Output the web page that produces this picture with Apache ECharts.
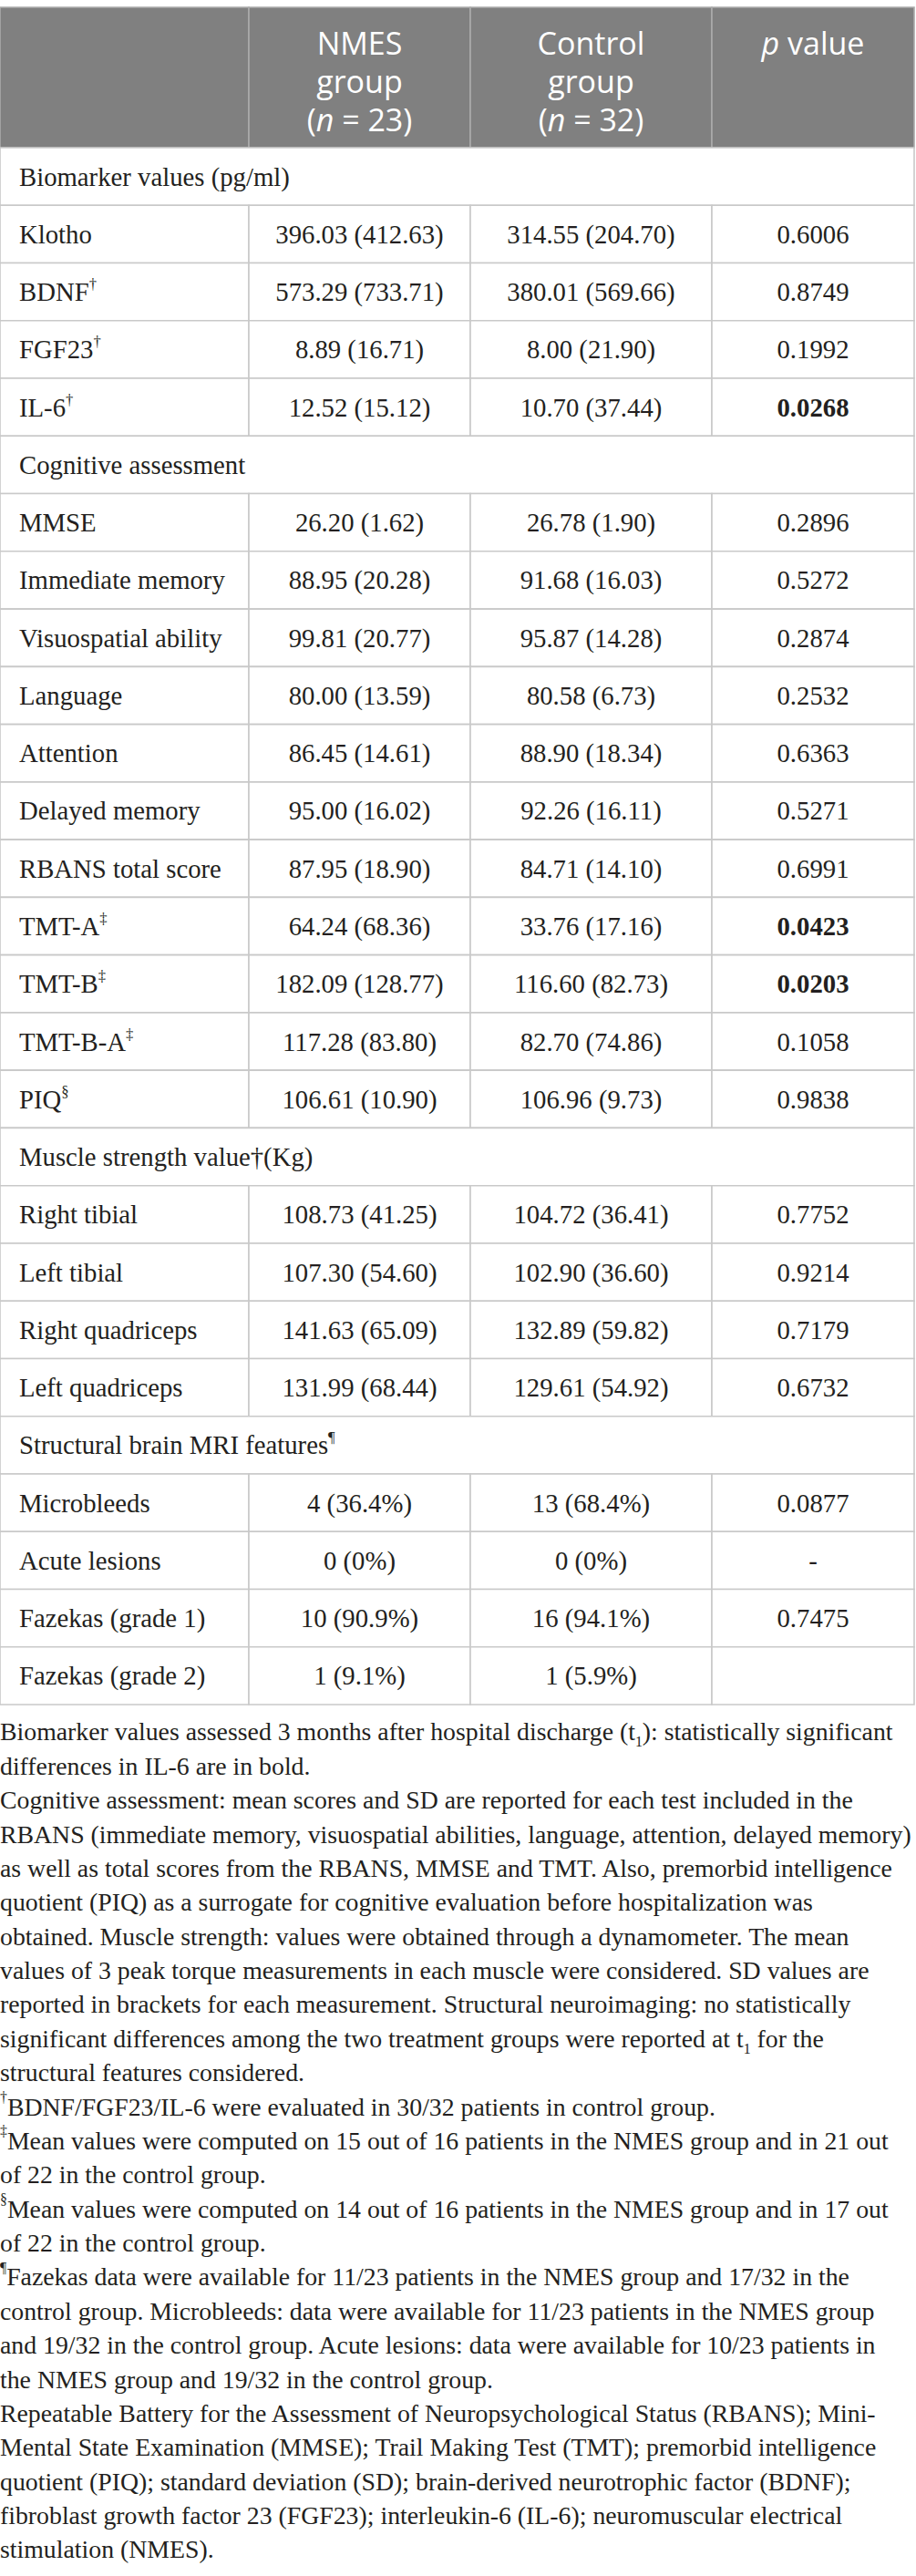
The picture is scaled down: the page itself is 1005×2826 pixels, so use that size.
<!DOCTYPE html>
<html>
<head>
<meta charset="utf-8">
<script src="https://cdn.jsdelivr.net/npm/echarts@6/dist/echarts.min.js"></script>
<style>
html,body{margin:0;padding:0;background:#ffffff;}
#chart{width:1005px;height:2826px;}
</style>
</head>
<body>
<div id="chart"></div>
<script>
// ---------------- DATA ----------------
const groupNames = ['NMES', 'Control'];
const groupSizes = [23, 32];
const pHeaderLabel = 'value';

const sectionTitles = ['Biomarker values (pg/ml)', 'Cognitive assessment', 'Muscle strength value\u2020(Kg)', 'Structural brain MRI features'];
const sectionMarks = ['', '', '', '\u00b6'];

const biomarkerLabels = ['Klotho', 'BDNF', 'FGF23', 'IL-6'];
const biomarkerMarks = ['', '\u2020', '\u2020', '\u2020'];
const biomarkerNmesMean = [396.03, 573.29, 8.89, 12.52];
const biomarkerNmesSD = [412.63, 733.71, 16.71, 15.12];
const biomarkerCtrlMean = [314.55, 380.01, 8.00, 10.70];
const biomarkerCtrlSD = [204.70, 569.66, 21.90, 37.44];
const biomarkerP = [0.6006, 0.8749, 0.1992, 0.0268];

const cognitiveLabels = ['MMSE', 'Immediate memory', 'Visuospatial ability', 'Language', 'Attention', 'Delayed memory', 'RBANS total score', 'TMT-A', 'TMT-B', 'TMT-B-A', 'PIQ'];
const cognitiveMarks = ['', '', '', '', '', '', '', '\u2021', '\u2021', '\u2021', '\u00a7'];
const cognitiveNmesMean = [26.20, 88.95, 99.81, 80.00, 86.45, 95.00, 87.95, 64.24, 182.09, 117.28, 106.61];
const cognitiveNmesSD = [1.62, 20.28, 20.77, 13.59, 14.61, 16.02, 18.90, 68.36, 128.77, 83.80, 10.90];
const cognitiveCtrlMean = [26.78, 91.68, 95.87, 80.58, 88.90, 92.26, 84.71, 33.76, 116.60, 82.70, 106.96];
const cognitiveCtrlSD = [1.90, 16.03, 14.28, 6.73, 18.34, 16.11, 14.10, 17.16, 82.73, 74.86, 9.73];
const cognitiveP = [0.2896, 0.5272, 0.2874, 0.2532, 0.6363, 0.5271, 0.6991, 0.0423, 0.0203, 0.1058, 0.9838];

const muscleLabels = ['Right tibial', 'Left tibial', 'Right quadriceps', 'Left quadriceps'];
const muscleNmesMean = [108.73, 107.30, 141.63, 131.99];
const muscleNmesSD = [41.25, 54.60, 65.09, 68.44];
const muscleCtrlMean = [104.72, 102.90, 132.89, 129.61];
const muscleCtrlSD = [36.41, 36.60, 59.82, 54.92];
const muscleP = [0.7752, 0.9214, 0.7179, 0.6732];

const structuralLabels = ['Microbleeds', 'Acute lesions', 'Fazekas (grade 1)', 'Fazekas (grade 2)'];
const structuralNmesCount = [4, 0, 10, 1];
const structuralNmesPct = [36.4, 0, 90.9, 9.1];
const structuralCtrlCount = [13, 0, 16, 1];
const structuralCtrlPct = [68.4, 0, 94.1, 5.9];
const structuralP = [0.0877, '-', 0.7475, ''];

const footnoteLines = [
  'Biomarker values assessed 3 months after hospital discharge (t{sub|1}): statistically significant',
  'differences in IL-6 are in bold.',
  'Cognitive assessment: mean scores and SD are reported for each test included in the',
  'RBANS (immediate memory, visuospatial abilities, language, attention, delayed memory)',
  'as well as total scores from the RBANS, MMSE and TMT. Also, premorbid intelligence',
  'quotient (PIQ) as a surrogate for cognitive evaluation before hospitalization was',
  'obtained. Muscle strength: values were obtained through a dynamometer. The mean',
  'values of 3 peak torque measurements in each muscle were considered. SD values are',
  'reported in brackets for each measurement. Structural neuroimaging: no statistically',
  'significant differences among the two treatment groups were reported at t{sub|1} for the',
  'structural features considered.',
  '{sup|\u2020}BDNF/FGF23/IL-6 were evaluated in 30/32 patients in control group.',
  '{sup|\u2021}Mean values were computed on 15 out of 16 patients in the NMES group and in 21 out',
  'of 22 in the control group.',
  '{sup|\u00a7}Mean values were computed on 14 out of 16 patients in the NMES group and in 17 out',
  'of 22 in the control group.',
  '{sup|\u00b6}Fazekas data were available for 11/23 patients in the NMES group and 17/32 in the',
  'control group. Microbleeds: data were available for 11/23 patients in the NMES group',
  'and 19/32 in the control group. Acute lesions: data were available for 10/23 patients in',
  'the NMES group and 19/32 in the control group.',
  'Repeatable Battery for the Assessment of Neuropsychological Status (RBANS); Mini-',
  'Mental State Examination (MMSE); Trail Making Test (TMT); premorbid intelligence',
  'quotient (PIQ); standard deviation (SD); brain-derived neurotrophic factor (BDNF);',
  'fibroblast growth factor 23 (FGF23); interleukin-6 (IL-6); neuromuscular electrical',
  'stimulation (NMES).'
];

// ---------------- LAYOUT / STYLE ----------------
const COL_EDGES = [0, 273, 516, 781, 1003];
const TABLE_TOP = 8;
const HEADER_H = 154;
const ROW_H = 63.26;
const TEXT_COLOR = '#231f20';
const BORDER = '#c9c9c9';
const HEAD_FILL = '#808080';
const SANS = 'Open Sans';

// pick an installed serif face
const measureCtx = document.createElement('canvas').getContext('2d');
function textW(font, s) { measureCtx.font = font; return measureCtx.measureText(s).width; }
function hasFont(name) {
  const probe = 'mmmmmmmmmmlliWWWabcxyz0123456789';
  const fallbacks = ['monospace', 'sans-serif'];
  return fallbacks.every(fb => textW('40px ' + fb, probe) !== textW('40px "' + name + '", ' + fb, probe));
}
const serifCandidates = ['Liberation Serif', 'Tinos', 'Times New Roman', 'Noto Serif', 'DejaVu Serif', 'FreeSerif'];
let SERIF = 'serif';
for (const f of serifCandidates) { if (hasFont(f)) { SERIF = f; break; } }
const serifCss = SERIF === 'serif' ? 'serif' : '"' + SERIF + '", serif';
// size text so that widths match the reference
const BODY_SIZE = Math.min(30, 29 * 297 / textW('29px ' + serifCss, 'Biomarker values (pg/ml)'));
const NOTE_SIZE = Math.min(30, 28 * 1000 / textW('28px ' + serifCss, 'RBANS (immediate memory, visuospatial abilities, language, attention, delayed memory)'));
const FAMILY = SERIF === 'serif' ? 'serif' : SERIF;

// ---------------- BUILD ROWS ----------------
const fmtMS = (m, s) => m.toFixed(2) + ' (' + s.toFixed(2) + ')';
const fmtCP = (c, p) => c + ' (' + (p === 0 ? '0' : p.toFixed(1)) + '%)';
const fmtP = p => (typeof p === 'number' ? p.toFixed(4) : p);

const rows = [];
function addSection(k) { rows.push({ section: true, label: sectionTitles[k], mark: sectionMarks[k] }); }
function addMS(labels, marks, nm, ns, cm, cs, ps) {
  labels.forEach((l, i) => rows.push({
    label: l, mark: marks ? marks[i] : '',
    c1: fmtMS(nm[i], ns[i]), c2: fmtMS(cm[i], cs[i]),
    p: fmtP(ps[i]), bold: typeof ps[i] === 'number' && ps[i] < 0.05
  }));
}
addSection(0);
addMS(biomarkerLabels, biomarkerMarks, biomarkerNmesMean, biomarkerNmesSD, biomarkerCtrlMean, biomarkerCtrlSD, biomarkerP);
addSection(1);
addMS(cognitiveLabels, cognitiveMarks, cognitiveNmesMean, cognitiveNmesSD, cognitiveCtrlMean, cognitiveCtrlSD, cognitiveP);
addSection(2);
addMS(muscleLabels, null, muscleNmesMean, muscleNmesSD, muscleCtrlMean, muscleCtrlSD, muscleP);
addSection(3);
structuralLabels.forEach((l, i) => rows.push({
  label: l, mark: '',
  c1: fmtCP(structuralNmesCount[i], structuralNmesPct[i]),
  c2: fmtCP(structuralCtrlCount[i], structuralCtrlPct[i]),
  p: fmtP(structuralP[i]), bold: typeof structuralP[i] === 'number' && structuralP[i] < 0.05
}));

const rowCats = rows.map((r, i) => String(i));

// ---------------- RENDER ----------------
function txt(x, y, text, opts) {
  const st = Object.assign({
    text: text,
    fill: TEXT_COLOR, fontSize: BODY_SIZE, fontFamily: FAMILY, fontWeight: 'normal',
    align: 'left', verticalAlign: 'middle'
  }, opts || {});
  return { type: 'text', x: x, y: y, style: st, silent: true };
}

const serifRich = {
  sup: { fontSize: BODY_SIZE * 0.58, fontFamily: FAMILY, fill: TEXT_COLOR, lineHeight: 18, verticalAlign: 'top' }
};

function renderBody(params, api) {
  const i = api.value(1);
  const row = rows[i];
  const c = api.coord([0, i]);
  const h = api.size([0, 1])[1];
  const top = c[1] - h / 2;
  const xs = COL_EDGES.map(e => api.coord([e, i])[0]);
  const children = [];
  const labelText = row.label + (row.mark ? '{sup|' + row.mark + '}' : '');
  if (row.section) {
    children.push({ type: 'rect', shape: { x: xs[0], y: top, width: xs[4] - xs[0], height: h },
      style: { fill: '#ffffff', stroke: BORDER, lineWidth: 1.6 } });
    children.push(txt(xs[0] + 21, c[1], labelText, { rich: serifRich, lineHeight: 34 }));
  } else {
    for (let k = 0; k < 4; k++) {
      children.push({ type: 'rect', shape: { x: xs[k], y: top, width: xs[k + 1] - xs[k], height: h },
        style: { fill: '#ffffff', stroke: BORDER, lineWidth: 1.6 } });
    }
    children.push(txt(xs[0] + 21, c[1], labelText, { rich: serifRich, lineHeight: 34 }));
    children.push(txt((xs[1] + xs[2]) / 2, c[1], row.c1, { align: 'center' }));
    children.push(txt((xs[2] + xs[3]) / 2, c[1], row.c2, { align: 'center' }));
    children.push(txt((xs[3] + xs[4]) / 2, c[1], row.p, { align: 'center', fontWeight: row.bold ? 'bold' : 'normal' }));
  }
  return { type: 'group', children: children };
}

const headRich = {
  i: { fontStyle: 'italic', fontSize: 34, fontFamily: SANS, fill: '#ffffff', lineHeight: 42 }
};
const headerTexts = [
  '',
  groupNames[0] + '\ngroup\n({i|n} = ' + groupSizes[0] + ')',
  groupNames[1] + '\ngroup\n({i|n} = ' + groupSizes[1] + ')',
  '{i|p} ' + pHeaderLabel
];

function renderHeader(params, api) {
  const c = api.coord([0, 0]);
  const h = api.size([0, 1])[1];
  const top = c[1] - h / 2;
  const xs = COL_EDGES.map(e => api.coord([e, 0])[0]);
  const children = [];
  for (let k = 0; k < 4; k++) {
    children.push({ type: 'rect', shape: { x: xs[k], y: top, width: xs[k + 1] - xs[k], height: h },
      style: { fill: HEAD_FILL, stroke: '#ababab', lineWidth: 1.6 } });
  }
  for (let k = 1; k < 4; k++) {
    children.push(txt((xs[k] + xs[k + 1]) / 2, top + 18, headerTexts[k], {
      align: 'center', verticalAlign: 'top', fill: '#ffffff', fontFamily: SANS, fontSize: 34,
      lineHeight: 42, rich: headRich
    }));
  }
  return { type: 'group', children: children };
}

const chart = echarts.init(document.getElementById('chart'), null, { renderer: 'svg', width: 1005, height: 2826 });

const noteTop = 1881.3;
const noteLH = 37.375;

chart.setOption({
  backgroundColor: '#ffffff',
  animation: false,
  grid: [
    { left: COL_EDGES[0], top: TABLE_TOP, width: COL_EDGES[4] - COL_EDGES[0], height: HEADER_H, outerBoundsMode: 'none', containLabel: false },
    { left: COL_EDGES[0], top: TABLE_TOP + HEADER_H, width: COL_EDGES[4] - COL_EDGES[0], height: ROW_H * rows.length, outerBoundsMode: 'none', containLabel: false }
  ],
  xAxis: [
    { type: 'value', gridIndex: 0, min: COL_EDGES[0], max: COL_EDGES[4], show: false },
    { type: 'value', gridIndex: 1, min: COL_EDGES[0], max: COL_EDGES[4], show: false }
  ],
  yAxis: [
    { type: 'category', gridIndex: 0, data: ['header'], show: false },
    { type: 'category', gridIndex: 1, data: rowCats, inverse: true, show: false }
  ],
  series: [
    { type: 'custom', xAxisIndex: 0, yAxisIndex: 0, renderItem: renderHeader,
      data: [[0, 0]], encode: { x: 0, y: 1 }, silent: true },
    { type: 'custom', xAxisIndex: 1, yAxisIndex: 1, renderItem: renderBody,
      data: rows.map((r, i) => [0, i]), encode: { x: 0, y: 1 }, silent: true }
  ],
  graphic: [
    {
      type: 'text', x: 0, y: noteTop, silent: true,
      style: {
        text: footnoteLines.join('\n'),
        fill: TEXT_COLOR, fontSize: NOTE_SIZE, fontFamily: FAMILY, lineHeight: noteLH,
        align: 'left', verticalAlign: 'top',
        rich: {
          sup: { fontSize: NOTE_SIZE * 0.57, fontFamily: FAMILY, fill: TEXT_COLOR, lineHeight: 18, verticalAlign: 'top' },
          sub: { fontSize: NOTE_SIZE * 0.57, fontFamily: FAMILY, fill: TEXT_COLOR, lineHeight: 24, verticalAlign: 'bottom' }
        }
      }
    }
  ]
});
</script>
</body>
</html>
